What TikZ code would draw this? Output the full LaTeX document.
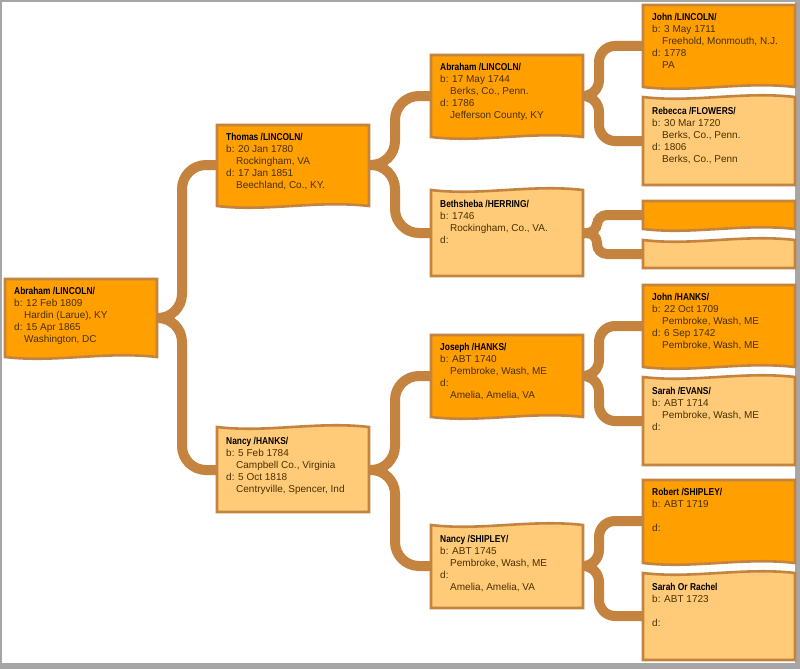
\documentclass[tikz,border=0pt]{standalone}
\usepackage{fontspec}
\setmainfont{Liberation Sans}
\newfontfamily\namefont[FakeStretch=0.84]{Liberation Sans}
\definecolor{dk}{HTML}{FF9F00}
\definecolor{lt}{HTML}{FFCB78}
\definecolor{br}{HTML}{C4833F}
\definecolor{tx}{HTML}{4A3000}
\tikzset{
  boxline/.style={draw=br, line width=2.6pt},
  txt/.style={anchor=north west, align=left, inner sep=0pt, font=\fontsize{10}{12}\selectfont, text=tx},
  conn/.style={draw=br, line width=10pt},
}
\newcommand\nm[1]{{\namefont\bfseries\color{black}#1}}
\newcommand\ii{\hspace*{10pt}}
% dark box: name, x, ytop, ybot, text
\newcommand\dkbox[5]{%
  \filldraw[boxline, fill=dk] (#2,#3) -- (#2+152,#3) -- (#2+152,#4) .. controls (#2+100,#4-6) and (#2+50,#4+6) .. (#2,#4) -- cycle;
  \node[txt] (#1) at (#2+9,#3+8) {#5};
  \coordinate (#1-l) at (#2,#3/2+#4/2);
  \coordinate (#1-r) at (#2+152,#3/2+#4/2);}
\newcommand\ltbox[5]{%
  \filldraw[boxline, fill=lt] (#2,#3) .. controls (#2+50,#3+6) and (#2+100,#3-6) .. (#2+152,#3) -- (#2+152,#4) -- (#2,#4) -- cycle;
  \node[txt] (#1) at (#2+9,#3+10) {#5};
  \coordinate (#1-l) at (#2,#3/2+#4/2);
  \coordinate (#1-r) at (#2+152,#3/2+#4/2);}
\begin{document}
\begin{tikzpicture}[x=1pt,y=-1pt]
\fill[gray!70] (0,0) rectangle (800,669);
\fill[white] (2,2) rectangle (795,663);
\useasboundingbox (0,0) rectangle (800,669);
% boxes coordinates first (draw connectors under boxes via layers: draw boxes after)
\path (0,0);
% connectors
\begin{scope}[rounded corners=22pt]
\foreach \p/\c/\t in {a0/t1/23, a0/n1/23, t1/a2/26, t1/b2/26, n1/j2/26, n1/s2/26}{}
\end{scope}
% define coordinates by drawing boxes invisibly is complex; instead connect with explicit named coordinates
\coordinate (a0-r) at (157,318);
\coordinate (t1-l) at (217,165); \coordinate (t1-r) at (369,165);
\coordinate (n1-l) at (217,470); \coordinate (n1-r) at (369,470);
\coordinate (a2-l) at (431,96); \coordinate (a2-r) at (583,96);
\coordinate (b2-l) at (431,233); \coordinate (b2-r) at (583,233);
\coordinate (j2-l) at (431,376); \coordinate (j2-r) at (583,376);
\coordinate (s2-l) at (431,566); \coordinate (s2-r) at (583,566);
\coordinate (g1) at (643,46); \coordinate (g2) at (643,141);
\coordinate (g3) at (643,215); \coordinate (g4) at (643,254);
\coordinate (g5) at (643,326); \coordinate (g6) at (643,421);
\coordinate (g7) at (643,521); \coordinate (g8) at (643,616);
\begin{scope}[rounded corners=24pt]
\draw[conn] (a0-r) -- ++(25,0) |- (t1-l);
\draw[conn] (a0-r) -- ++(25,0) |- (n1-l);
\draw[conn] (t1-r) -- ++(26,0) |- (a2-l);
\draw[conn] (t1-r) -- ++(26,0) |- (b2-l);
\draw[conn] (n1-r) -- ++(26,0) |- (j2-l);
\draw[conn] (n1-r) -- ++(26,0) |- (s2-l);
\end{scope}
\begin{scope}[rounded corners=16pt]
\draw[conn] (a2-r) -- ++(16,0) |- (g1);
\draw[conn] (a2-r) -- ++(16,0) |- (g2);
\draw[conn] (j2-r) -- ++(16,0) |- (g5);
\draw[conn] (j2-r) -- ++(16,0) |- (g6);
\draw[conn] (s2-r) -- ++(16,0) |- (g7);
\draw[conn] (s2-r) -- ++(16,0) |- (g8);
\end{scope}
\begin{scope}[rounded corners=10pt]
\draw[conn] (b2-r) -- ++(14,0) |- (g3);
\draw[conn] (b2-r) -- ++(14,0) |- (g4);
\end{scope}
% boxes
\dkbox{a0}{5}{279}{357}{\nm{Abraham /LINCOLN/}\\b: 12 Feb 1809\\\ii Hardin (Larue), KY\\d: 15 Apr 1865\\\ii Washington, DC}
\dkbox{t1}{217}{125}{206}{\nm{Thomas /LINCOLN/}\\b: 20 Jan 1780\\\ii Rockingham, VA\\d: 17 Jan 1851\\\ii Beechland, Co., KY.}
\ltbox{n1}{217}{427}{512}{\nm{Nancy /HANKS/}\\b: 5 Feb 1784\\\ii Campbell Co., Virginia\\d: 5 Oct 1818\\\ii Centryville, Spencer, Ind}
\dkbox{a2}{431}{55}{137}{\nm{Abraham /LINCOLN/}\\b: 17 May 1744\\\ii Berks, Co., Penn.\\d: 1786\\\ii Jefferson County, KY}
\ltbox{b2}{431}{190}{276}{\nm{Bethsheba /HERRING/}\\b: 1746\\\ii Rockingham, Co., VA.\\d:}
\dkbox{j2}{431}{335}{417}{\nm{Joseph /HANKS/}\\b: ABT 1740\\\ii Pembroke, Wash, ME\\d:\\\ii Amelia, Amelia, VA}
\ltbox{s2}{431}{525}{608}{\nm{Nancy /SHIPLEY/}\\b: ABT 1745\\\ii Pembroke, Wash, ME\\d:\\\ii Amelia, Amelia, VA}
\dkbox{p1}{643}{5}{87}{\nm{John /LINCOLN/}\\b: 3 May 1711\\\ii Freehold, Monmouth, N.J.\\d: 1778\\\ii PA}
\ltbox{p2}{643}{97}{185}{\nm{Rebecca /FLOWERS/}\\b: 30 Mar 1720\\\ii Berks, Co., Penn.\\d: 1806\\\ii Berks, Co., Penn}
\dkbox{p3}{643}{201}{229}{}
\ltbox{p4}{643}{240}{268}{}
\dkbox{p5}{643}{285}{367}{\nm{John /HANKS/}\\b: 22 Oct 1709\\\ii Pembroke, Wash, ME\\d: 6 Sep 1742\\\ii Pembroke, Wash, ME}
\ltbox{p6}{643}{377}{465}{\nm{Sarah /EVANS/}\\b: ABT 1714\\\ii Pembroke, Wash, ME\\d:}
\dkbox{p7}{643}{480}{563}{\nm{Robert /SHIPLEY/}\\b: ABT 1719\\[\baselineskip]d:}
\ltbox{p8}{643}{573}{660}{\nm{Sarah Or Rachel}\\b: ABT 1723\\[\baselineskip]d:}
\end{tikzpicture}
\end{document}
